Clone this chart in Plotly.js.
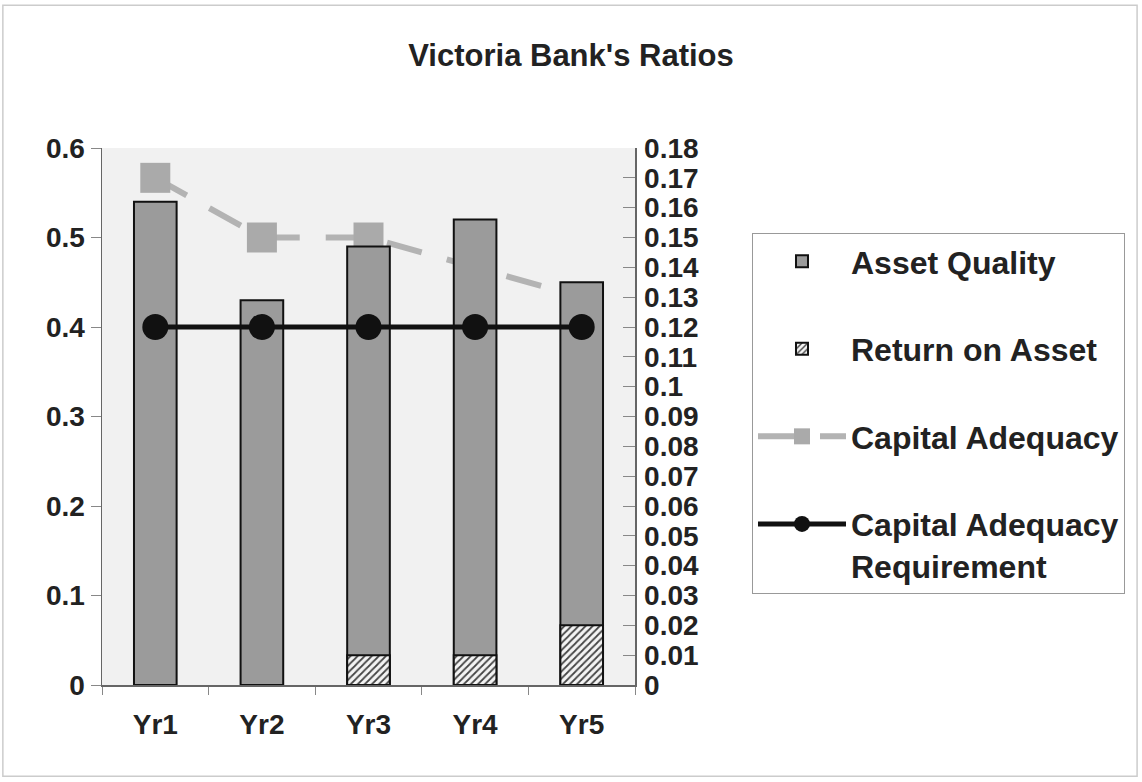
<!DOCTYPE html>
<html>
<head>
<meta charset="utf-8">
<script src="https://cdn.plot.ly/plotly-3.0.1.min.js"></script>
<style>html,body{margin:0;padding:0;background:#fff;}#chart{width:1142px;height:782px;}</style>
</head>
<body>
<div id="chart"></div>
<script>
const years = ['Yr1', 'Yr2', 'Yr3', 'Yr4', 'Yr5'];
const assetQuality = [0.54, 0.43, 0.49, 0.52, 0.45];
const returnOnAsset = [0, 0, 0.01, 0.01, 0.02];
const capitalAdequacy = [0.17, 0.15, 0.15, 0.14, 0.13];
const capitalRequirement = [0.12, 0.12, 0.12, 0.12, 0.12];
const leftTicks = [0, 0.1, 0.2, 0.3, 0.4, 0.5, 0.6];
const leftTickText = ['0', '0.1', '0.2', '0.3', '0.4', '0.5', '0.6'];
const rightTicks = [0, 0.01, 0.02, 0.03, 0.04, 0.05, 0.06, 0.07, 0.08, 0.09, 0.1, 0.11, 0.12, 0.13, 0.14, 0.15, 0.16, 0.17, 0.18];
const rightTickText = ['0', '0.01', '0.02', '0.03', '0.04', '0.05', '0.06', '0.07', '0.08', '0.09', '0.1', '0.11', '0.12', '0.13', '0.14', '0.15', '0.16', '0.17', '0.18'];

const FONT = 'Liberation Sans, Arial, sans-serif';
const fs = 28;

const traces = [
  {
    type: 'bar', name: 'Asset Quality', x: years, y: assetQuality, yaxis: 'y2',
    width: 0.4, legendgroup: 'a',
    marker: { color: '#9b9b9b', line: { color: '#111', width: 2 } }
  },
  {
    type: 'bar', name: 'Return on Asset', x: years, y: returnOnAsset, yaxis: 'y3',
    width: 0.4, legendgroup: 'b',
    marker: { color: '#ffffff', line: { color: '#111', width: 2 },
      pattern: { shape: '/', fgcolor: '#444', bgcolor: '#f4f4f4', size: 5, solidity: 0.35 } }
  },
  {
    type: 'scatter', mode: 'lines+markers', name: 'Capital Adequacy', x: years, y: capitalAdequacy, yaxis: 'y',
    legendgroup: 'c',
    line: { color: '#b3b3b3', width: 6, dash: '36px,26px' },
    marker: { symbol: 'square', size: 30, color: '#aaaaaa' }
  },
  {
    type: 'scatter', mode: 'lines+markers', name: 'Capital Adequacy<br>Requirement', x: years, y: capitalRequirement, yaxis: 'y3',
    legendgroup: 'd',
    line: { color: '#111', width: 5 },
    marker: { symbol: 'circle', size: 26, color: '#111' }
  }
];

const layout = {
  width: 1142, height: 782,
  margin: { l: 102, r: 507, t: 148, b: 97 },
  paper_bgcolor: '#ffffff',
  plot_bgcolor: '#f1f1f1',
  barmode: 'overlay',
  showlegend: true,
  font: { family: FONT, size: fs, color: '#222' },
  title: { text: "<b>Victoria Bank's Ratios</b>", x: 0.5, xref: 'container', xanchor: 'center', y: 0.93, yref: 'container', yanchor: 'middle',
    font: { family: FONT, size: 31, color: '#222' } },
  xaxis: {
    type: 'category', range: [-0.5, 4.5],
    showline: true, linecolor: '#666', linewidth: 1.5,
    ticks: 'outside', tickson: 'boundaries', ticklen: 8, tickcolor: '#888',
    ticklabelstandoff: 14,
    tickfont: { family: FONT, size: fs, color: '#222', weight: 'bold' },
    showgrid: false, zeroline: false
  },
  yaxis: {
    side: 'right', range: [0, 0.18],
    tickvals: rightTicks, ticktext: rightTickText,
    showline: true, linecolor: '#666', linewidth: 1.5,
    ticks: 'inside', ticklen: 12, tickcolor: '#888',
    ticklabelstandoff: 2,
    tickfont: { family: FONT, size: fs, color: '#222', weight: 'bold' },
    showgrid: false, zeroline: false
  },
  yaxis2: {
    overlaying: 'y', side: 'left', range: [0, 0.6],
    tickvals: leftTicks, ticktext: leftTickText,
    showline: true, linecolor: '#666', linewidth: 1.5,
    ticks: 'outside', ticklen: 10, tickcolor: '#888',
    tickfont: { family: FONT, size: fs, color: '#222', weight: 'bold' },
    showgrid: false, zeroline: false
  },
  yaxis3: {
    overlaying: 'y', range: [0, 0.18], visible: false, showgrid: false, zeroline: false
  },
  legend: {
    x: 1.2195, xanchor: 'left', y: 0.842, yanchor: 'top',
    bgcolor: '#ffffff', bordercolor: '#999', borderwidth: 1,
    traceorder: 'grouped', tracegroupgap: 43, valign: 'top', itemwidth: 88,
    font: { family: FONT, size: 32, color: '#222', weight: 'bold' }
  },
  shapes: [
    { type: 'rect', xref: 'paper', yref: 'paper', x0: -0.186, x1: 1.942, y0: -0.17, y1: 1.266,
      line: { color: '#cccccc', width: 1.5 }, fillcolor: 'rgba(0,0,0,0)', layer: 'below' }
  ]
};

Plotly.newPlot('chart', traces, layout, { displayModeBar: false, staticPlot: true });
</script>
</body>
</html>
